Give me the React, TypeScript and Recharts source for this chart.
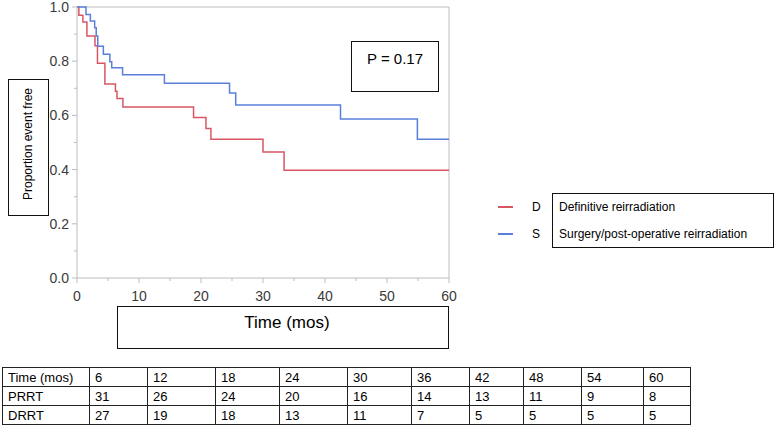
import React from 'react';
import { LineChart, Line, XAxis, YAxis, ReferenceLine } from 'recharts';

// Kaplan-Meier steps (time in months, proportion event free)
const defTimes = [0, 0.3, 0.95, 1.6, 2.9, 3.3, 4.5, 6.2, 6.45, 7.4, 18.8, 20.8, 21.6, 30.0, 33.4, 60];
const defSurv = [1.0, 0.97, 0.945, 0.893, 0.857, 0.792, 0.716, 0.689, 0.662, 0.631, 0.592, 0.552, 0.512, 0.465, 0.398, 0.398];

const surgTimes = [0, 1.45, 2.15, 2.85, 3.1, 3.35, 4.25, 5.3, 5.6, 7.35, 14.1, 24.6, 25.6, 42.5, 54.9, 60];
const surgSurv = [1.0, 0.972, 0.948, 0.923, 0.893, 0.855, 0.826, 0.798, 0.776, 0.75, 0.719, 0.683, 0.638, 0.587, 0.512, 0.512];

const xTicks = [0, 5, 10, 15, 20, 25, 30, 35, 40, 45, 50, 55, 60];
const yTicks = [0, 0.1, 0.2, 0.3, 0.4, 0.5, 0.6, 0.7, 0.8, 0.9, 1.0];

const groupCodes = ['D', 'S'];
const groupNames = ['Definitive reirradiation', 'Surgery/post-operative reirradiation'];

const tableTimes = [6, 12, 18, 24, 30, 36, 42, 48, 54, 60];
const prrtAtRisk = [31, 26, 24, 20, 16, 14, 13, 11, 9, 8];
const drrtAtRisk = [27, 19, 18, 13, 11, 7, 5, 5, 5, 5];

const RED = '#d95763';
const BLUE = '#5a7fdb';
const AXIS = '#bdbdbd';
const TICK_TEXT = '#3a3a3a';
const TICK_FONT = '"Liberation Sans Narrow", "Liberation Sans", Arial, sans-serif';
const TEXT_FONT = '"Liberation Sans", Arial, sans-serif';

const defData = defTimes.map((t, i) => ({ t, s: defSurv[i] }));
const surgData = surgTimes.map((t, i) => ({ t, s: surgSurv[i] }));

const colWidths = [87, 58, 68, 64, 68, 64, 58, 54, 58, 62, 47];

const YTick = (props: any) => {
  const { x, y, payload } = props;
  const v = payload.value as number;
  const major = Math.round(v * 10) % 2 === 0;
  return (
    <g>
      <line x1={x - (major ? 5 : 3)} x2={x} y1={y} y2={y} stroke={AXIS} />
      {major && (
        <text x={x - 8} y={y + 5} textAnchor="end" fontSize={14} fill={TICK_TEXT} fontFamily={TICK_FONT}>
          {v.toFixed(1)}
        </text>
      )}
    </g>
  );
};

const XTick = (props: any) => {
  const { x, y, payload } = props;
  const v = payload.value as number;
  const major = v % 10 === 0;
  return (
    <g>
      <line x1={x} x2={x} y1={y} y2={y + (major ? 5 : 3)} stroke={AXIS} />
      {major && (
        <text x={x} y={y + 23} textAnchor="middle" fontSize={14} fill={TICK_TEXT} fontFamily={TICK_FONT}>
          {v}
        </text>
      )}
    </g>
  );
};

const box: React.CSSProperties = {
  position: 'absolute',
  border: '1px solid #111',
  boxSizing: 'border-box',
  fontFamily: TEXT_FONT,
  color: '#000',
  background: '#fff',
};

const cell: React.CSSProperties = {
  border: '1px solid #222',
  padding: '0 0 0 5px',
  height: 18,
  fontSize: 13,
  textAlign: 'left',
  verticalAlign: 'middle',
};

export default function App() {
  const colors = [RED, BLUE];
  return (
    <div style={{ position: 'relative', width: 779, height: 426, background: '#fff', overflow: 'hidden' }}>
      <style>{'body{margin:0}'}</style>
      <LineChart width={779} height={426} data={defData} margin={{ top: 7, right: 330, bottom: 118, left: 0 }}>
        <XAxis
          type="number"
          dataKey="t"
          domain={[0, 60]}
          ticks={xTicks}
          interval={0}
          height={30}
          tickSize={0}
          tickMargin={0}
          tickLine={false}
          axisLine={{ stroke: AXIS }}
          tick={<XTick />}
        />
        <YAxis
          type="number"
          domain={[0, 1]}
          ticks={yTicks}
          interval={0}
          width={77}
          tickSize={0}
          tickMargin={0}
          tickLine={false}
          axisLine={{ stroke: AXIS }}
          tick={<YTick />}
        />
        <ReferenceLine y={1} stroke={AXIS} />
        <ReferenceLine x={60} stroke={AXIS} />
        <Line
          data={defData}
          dataKey="s"
          type="stepAfter"
          stroke={RED}
          strokeWidth={1.5}
          dot={false}
          isAnimationActive={false}
        />
        <Line
          data={surgData}
          dataKey="s"
          type="stepAfter"
          stroke={BLUE}
          strokeWidth={1.5}
          dot={false}
          isAnimationActive={false}
        />
      </LineChart>

      {/* y axis title box */}
      <div style={{ ...box, left: 8, top: 79, width: 41, height: 137, display: 'flex', alignItems: 'center', justifyContent: 'center' }}>
        <div style={{ transform: 'rotate(-90deg)', whiteSpace: 'nowrap', fontSize: 12, marginTop: -8 }}>Proportion event free</div>
      </div>

      {/* x axis title box */}
      <div style={{ ...box, left: 117, top: 306, width: 332, height: 43, textAlign: 'center', fontSize: 17, lineHeight: '17px', paddingTop: 7, paddingLeft: 8 }}>
        Time (mos)
      </div>

      {/* p-value box */}
      <div style={{ ...box, left: 351, top: 41, width: 88, height: 51, textAlign: 'center', fontSize: 15, lineHeight: '15px', paddingTop: 9 }}>
        P = 0.17
      </div>

      {/* legend */}
      <div style={{ ...box, left: 552, top: 193, width: 222, height: 55 }} />
      {groupCodes.map((code, i) => (
        <div key={code} style={{ position: 'absolute', left: 0, top: 207 + i * 27 - 8, height: 16, width: 779, fontFamily: TEXT_FONT, fontSize: 12 }}>
          <div style={{ position: 'absolute', left: 498, top: 7, width: 15, height: 2, background: colors[i] }} />
          <div style={{ position: 'absolute', left: 532, top: 1, lineHeight: '14px' }}>{code}</div>
          <div style={{ position: 'absolute', left: 559, top: 1, lineHeight: '14px' }}>{groupNames[i]}</div>
        </div>
      ))}

      {/* numbers at risk */}
      <table
        style={{
          position: 'absolute',
          left: 2,
          top: 367,
          borderCollapse: 'collapse',
          fontFamily: TEXT_FONT,
          tableLayout: 'fixed',
          width: colWidths.reduce((a, b) => a + b, 0),
        }}
      >
        <colgroup>
          {colWidths.map((w, i) => (
            <col key={i} style={{ width: w }} />
          ))}
        </colgroup>
        <tbody>
          <tr>
            <td style={cell}>Time (mos)</td>
            {tableTimes.map((t) => (
              <td key={t} style={cell}>{t}</td>
            ))}
          </tr>
          <tr>
            <td style={cell}>PRRT</td>
            {prrtAtRisk.map((n, i) => (
              <td key={i} style={cell}>{n}</td>
            ))}
          </tr>
          <tr>
            <td style={cell}>DRRT</td>
            {drrtAtRisk.map((n, i) => (
              <td key={i} style={cell}>{n}</td>
            ))}
          </tr>
        </tbody>
      </table>
    </div>
  );
}
